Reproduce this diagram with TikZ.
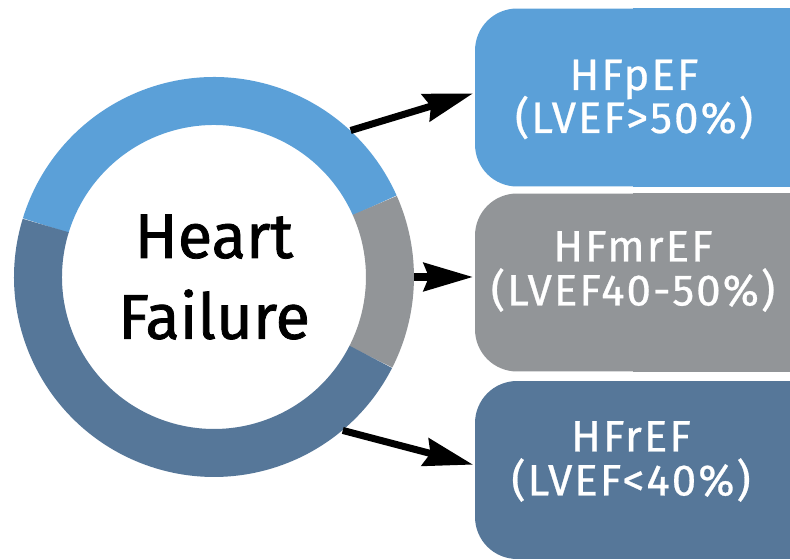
\documentclass[tikz,border=0pt]{standalone}
\usepackage{fontspec}
\setmainfont{Fira Sans}
\newfontfamily\hffont{Fira Sans}[FakeBold=1.2]
\newfontfamily\boxfont{Fira Sans}[FakeBold=0.6,LetterSpace=4.5]
\usetikzlibrary{arrows.meta,backgrounds}

\definecolor{hfblue}{RGB}{91,160,216}
\definecolor{hfgray}{RGB}{146,149,152}
\definecolor{hfslate}{RGB}{86,119,153}

\begin{document}
\begin{tikzpicture}[x=0.02cm,y=0.02cm,
  box/.style={rounded corners=0.84cm, minimum width=6.3cm, minimum height=3.56cm, inner sep=0pt},
  boxtext/.style={text=white, align=center, font=\boxfont\fontsize{25}{25}\selectfont},
  link/.style={line width=4pt, -{Stealth[length=28pt,width=16pt,inset=3pt]}, shorten >=1pt},
  ringpart/.style={line width=0.96cm}]
  \useasboundingbox (0,0) rectangle (790,560);

  % Ring
  \node[circle, minimum size=8cm, inner sep=0pt, align=center, font=\hffont\fontsize{36}{46}\selectfont] (hf) at (214,283) {Heart\\Failure};
  \draw[ringpart, hfblue] (hf.center) ++(24:3.52cm) arc[start angle=24, end angle=163, radius=3.52cm];
  \draw[ringpart, hfgray] (hf.center) ++(-27:3.52cm) arc[start angle=-27, end angle=24, radius=3.52cm];
  \draw[ringpart, hfslate] (hf.center) ++(163:3.52cm) arc[start angle=163, end angle=333, radius=3.52cm];

  % Boxes
  \node[box, fill=hfblue] (p1) at (632.5,462.5) {};
  \node[box, fill=hfgray] (p2) at (632.5,277.5) {};
  \node[box, fill=hfslate] (p3) at (632.5,90) {};

  \node[boxtext] (t1) at (634,460.5) {HFpEF\\[-3pt](LVEF>50\%)};
  \node[boxtext] (t2) at (633,288.5) {HFmrEF\\(LVEF40-50\%)};
  \node[boxtext] (t3) at (631,98.5) {HFrEF\\(LVEF<40\%)};

  % Arrows
  \draw[link] (hf.47) -- ([yshift=2.6pt]p1.west);
  \draw[link] (hf.east) -- (hf.east -| p2.west);
  \draw[link] (hf.-50) -- ([yshift=2.8pt]p3.west);

  % square off the right side of the boxes
  \begin{scope}[on background layer]
    \fill[white] (0,0) rectangle (790,560);
    \fill[hfblue] (p1.north) rectangle (p1.south east);
    \fill[hfgray] (p2.north) rectangle (p2.south east);
    \fill[hfslate] (p3.north) rectangle (p3.south east);
  \end{scope}
\end{tikzpicture}
\end{document}
